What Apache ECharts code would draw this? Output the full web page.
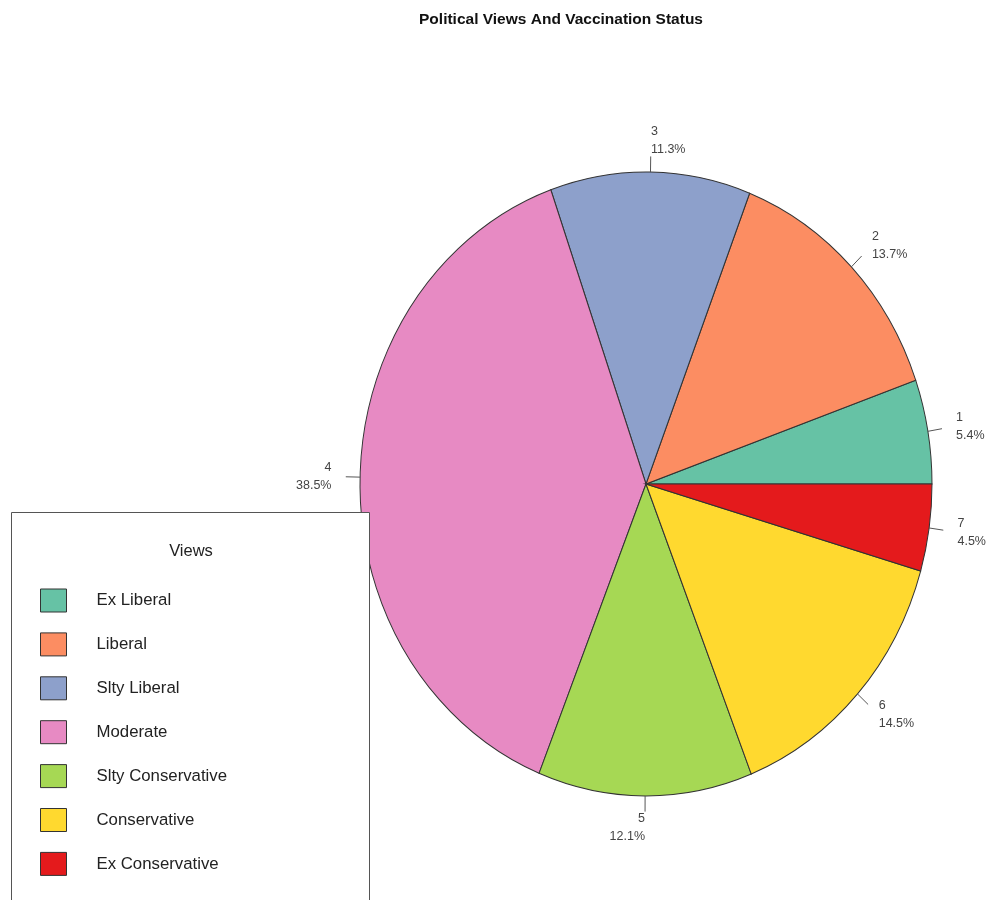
<!DOCTYPE html>
<html>
<head>
<meta charset="utf-8">
<script src="https://cdn.jsdelivr.net/npm/echarts@6/dist/echarts.min.js"></script>
<style>
  html, body { margin: 0; padding: 0; background: #fff; }
  #chart { width: 988px; height: 900px; }
</style>
</head>
<body>
<div id="chart"></div>
<script>
// Share of respondents by political view (percent)
const categories = ['Ex Liberal', 'Liberal', 'Slty Liberal', 'Moderate', 'Slty Conservative', 'Conservative', 'Ex Conservative'];
const sliceIds = ['1', '2', '3', '4', '5', '6', '7'];
const shares = [5.4, 13.7, 11.3, 38.5, 12.1, 14.5, 4.5];
const palette = ['#66C2A5', '#FC8D62', '#8DA0CB', '#E78AC3', '#A6D854', '#FFD92F', '#E41A1C'];

const FONT = '"Liberation Sans", Arial, Helvetica, sans-serif';

// Elliptical pie layout (the plot region is not square)
const CX = 646, CY = 484, RX = 286, RY = 312;

const total = shares.reduce((a, b) => a + b, 0);
const starts = shares.map((_, i) => shares.slice(0, i).reduce((a, b) => a + b, 0));

function makeSlice(i) {
  return function (params, api) {
    const v = api.value(0);
    const a0 = 2 * Math.PI * starts[i] / total;
    const a1 = 2 * Math.PI * (starts[i] + v) / total;
    const mid = (a0 + a1) / 2;
    const cosM = Math.cos(mid), sinM = Math.sin(mid);
    const pt = k => [CX + k * RX * cosM, CY - k * RY * sinM];
    const p1 = pt(1.0), p2 = pt(1.05), pl = pt(1.1);
    return {
      type: 'group',
      children: [
        {
          type: 'sector',
          x: CX, y: CY,
          scaleY: RY / RX,
          shape: { cx: 0, cy: 0, r0: 0, r: RX, startAngle: -a0, endAngle: -a1, clockwise: false },
          style: { fill: palette[i], stroke: '#333', lineWidth: 1, strokeNoScale: true }
        },
        {
          type: 'line',
          shape: { x1: p1[0], y1: p1[1], x2: p2[0], y2: p2[1] },
          style: { stroke: '#555', lineWidth: 1 }
        },
        {
          type: 'text',
          x: pl[0], y: pl[1],
          style: {
            text: sliceIds[i] + '\n' + v.toFixed(1) + '%',
            fill: '#444',
            fontSize: 12.5,
            lineHeight: 18,
            fontFamily: FONT,
            align: cosM < 0 ? 'right' : 'left',
            verticalAlign: 'middle'
          }
        }
      ]
    };
  };
}

const chart = echarts.init(document.getElementById('chart'), null, { renderer: 'canvas' });

chart.setOption({
  animation: false,
  color: palette,
  title: [
    {
      text: 'Political Views And Vaccination Status',
      left: 561, top: 12, padding: 0, textAlign: 'center',
      textStyle: { fontFamily: FONT, fontSize: 15.5, fontWeight: 'bold', color: '#111' }
    },
    {
      text: 'Views',
      left: 191, top: 543, padding: 0, textAlign: 'center', z: 10,
      textStyle: { fontFamily: FONT, fontSize: 16.5, fontWeight: 'normal', color: '#222' }
    }
  ],
  legend: {
    data: categories,
    orient: 'vertical',
    left: 40, top: 588.5,
    padding: 0,
    itemWidth: 26, itemHeight: 23, itemGap: 19.9,
    icon: 'rect',
    selectedMode: false,
    z: 10,
    itemStyle: { borderColor: '#333', borderWidth: 1 },
    textStyle: { fontFamily: FONT, fontSize: 16.8, color: '#222', padding: [0, 0, 0, 25] }
  },
  graphic: [
    {
      type: 'rect',
      z: 5,
      shape: { x: 11.5, y: 512.5, width: 358, height: 420 },
      style: { fill: '#fff', stroke: '#555', lineWidth: 1 }
    }
  ],
  series: categories.map((name, i) => ({
    type: 'custom',
    name: name,
    coordinateSystem: 'none',
    z: 2,
    itemStyle: { color: palette[i] },
    data: [[shares[i]]],
    renderItem: makeSlice(i)
  }))
});
</script>
</body>
</html>
